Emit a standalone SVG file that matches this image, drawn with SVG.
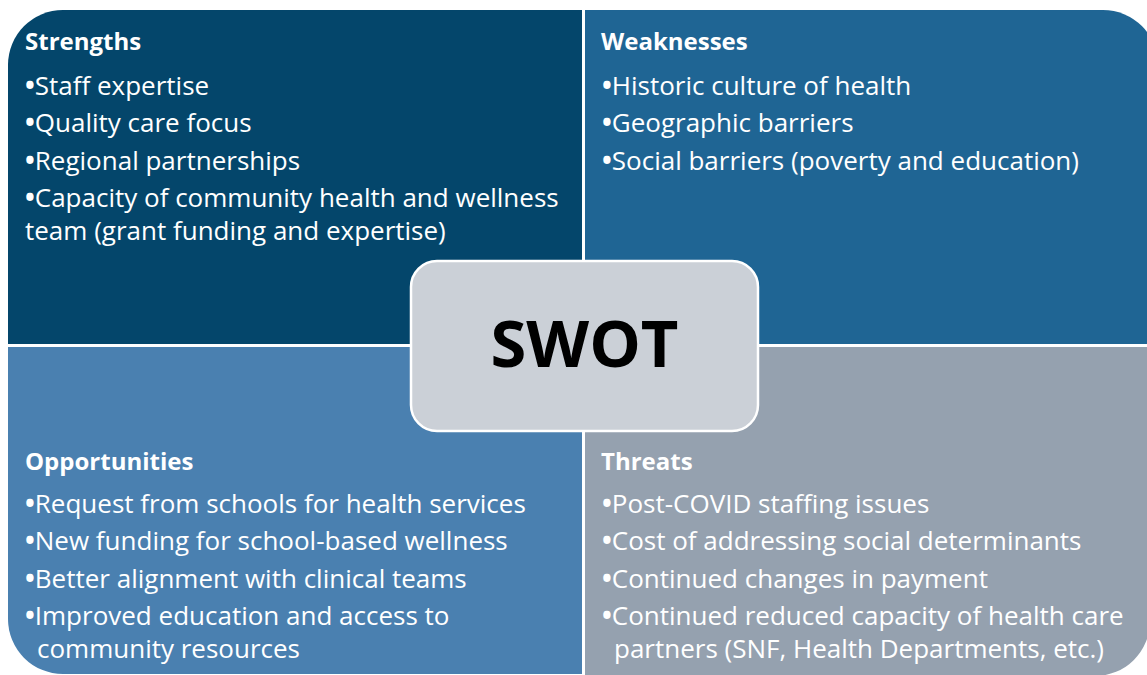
<svg xmlns="http://www.w3.org/2000/svg" width="1147" height="675" viewBox="0 0 1147 675">
<style>
.h{font-family:"Open Sans","Liberation Sans",sans-serif;font-weight:bold;font-size:24px;fill:#fff}
.b{font-family:"Open Sans","Liberation Sans",sans-serif;font-size:26px;fill:#fff}
.b tspan.d{font-weight:bold}
.c{font-family:"Open Sans","Liberation Sans",sans-serif;font-weight:bold;font-size:65px;fill:#000}
</style>
<rect width="1147" height="675" fill="#fff"/>
<g id="strengths">
<path d="M8,65 A55,55 0 0 1 63,10 H582 V344 H8 Z" fill="#04466B"/>
<text class="h" x="25" y="50">Strengths</text>
<text class="b" x="25" y="95"><tspan class="d">•</tspan>Staff expertise</text>
<text class="b" x="25" y="132"><tspan class="d">•</tspan>Quality care focus</text>
<text class="b" x="25" y="170"><tspan class="d">•</tspan>Regional partnerships</text>
<text class="b" x="25" y="207"><tspan class="d">•</tspan>Capacity of community health and wellness</text>
<text class="b" x="25" y="240">team (grant funding and expertise)</text>
</g>
<g id="weaknesses">
<path d="M585,10 H1103 A55,55 0 0 1 1158,65 V344 H585 Z" fill="#1F6594"/>
<text class="h" x="601" y="50">Weaknesses</text>
<text class="b" x="602" y="95"><tspan class="d">•</tspan>Historic culture of health</text>
<text class="b" x="602" y="132"><tspan class="d">•</tspan>Geographic barriers</text>
<text class="b" x="602" y="170"><tspan class="d">•</tspan>Social barriers (poverty and education)</text>
</g>
<g id="opportunities">
<path d="M8,347 H582 V674 H63 A55,55 0 0 1 8,619 Z" fill="#4A80B0"/>
<text class="h" x="25" y="470">Opportunities</text>
<text class="b" x="25" y="513"><tspan class="d">•</tspan>Request from schools for health services</text>
<text class="b" x="25" y="550"><tspan class="d">•</tspan>New funding for school-based wellness</text>
<text class="b" x="25" y="588"><tspan class="d">•</tspan>Better alignment with clinical teams</text>
<text class="b" x="25" y="625"><tspan class="d">•</tspan>Improved education and access to</text>
<text class="b" x="37" y="658">community resources</text>
</g>
<g id="threats">
<path d="M585,347 H1150 V621 A55,55 0 0 1 1095,676 H585 Z" fill="#95A1AF"/>
<text class="h" x="601" y="470">Threats</text>
<text class="b" x="602" y="513"><tspan class="d">•</tspan>Post-COVID staffing issues</text>
<text class="b" x="602" y="550"><tspan class="d">•</tspan>Cost of addressing social determinants</text>
<text class="b" x="602" y="588"><tspan class="d">•</tspan>Continued changes in payment</text>
<text class="b" x="602" y="625"><tspan class="d">•</tspan>Continued reduced capacity of health care</text>
<text class="b" x="614" y="658">partners (SNF, Health Departments, etc.)</text>
</g>
<g id="center">
<rect x="411" y="261" width="347" height="170" rx="26" fill="#CBD0D7" stroke="#fff" stroke-width="2.5"/>
<text class="c" x="584.5" y="367" text-anchor="middle">SWOT</text>
</g>
<g id="connectors"/>
</svg>
